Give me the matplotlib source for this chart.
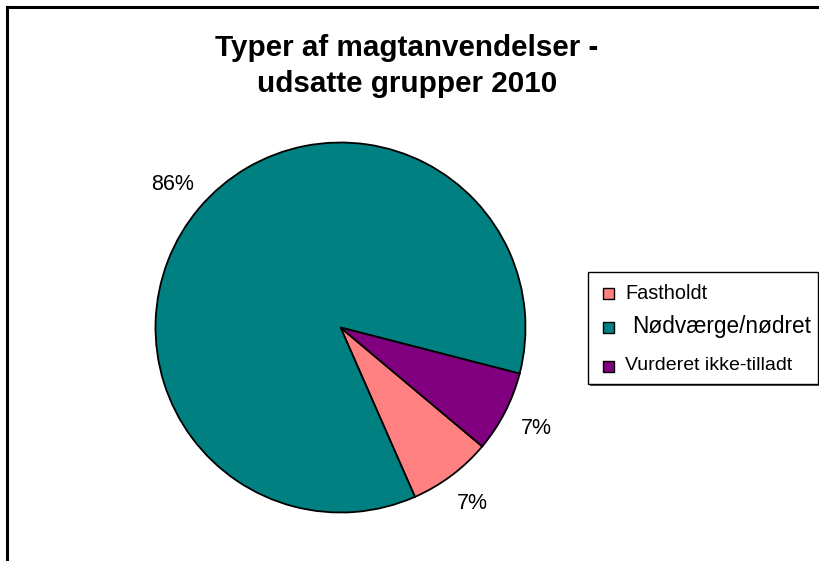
import matplotlib.pyplot as plt
from matplotlib.patches import Rectangle
from matplotlib.lines import Line2D

# data
labels = ['Fastholdt', 'Nødværge/nødret', 'Vurderet ikke-tilladt']
values = [7.3, 85.6, 7.1]
colors = ['#FF8080', '#008080', '#800080']
title = 'Typer af magtanvendelser -\nudsatte grupper 2010'

plt.rcParams['font.family'] = ['Liberation Sans', 'DejaVu Sans']

W, H = 820, 561
fig = plt.figure(figsize=(W / 100, H / 100), dpi=100)
fig.patch.set_facecolor('white')

# outer frame (only left and top visible)
fig.add_artist(Line2D([7 / W, 7 / W], [0, 1 - 7 / H], color='black', lw=2.2))
fig.add_artist(Line2D([7 / W, 1], [1 - 7 / H, 1 - 7 / H], color='black', lw=2.2))

# pie axes: center (340.5, 327.5), radius 185 px
cx, cy, r = 340.5, 327.5, 185
ax = fig.add_axes([(cx - r) / W, (H - cy - r) / H, 2 * r / W, 2 * r / H])
wedges, texts, autotexts = ax.pie(values, colors=colors, startangle=-40, counterclock=False,
                                  autopct='%1.0f%%', pctdistance=1.19,
                                  wedgeprops=dict(edgecolor='black', linewidth=1.3),
                                  textprops=dict(fontsize=15.5))
ax.set_xlim(-1, 1)
ax.set_ylim(-1, 1)
ax.set_aspect('equal')

fig.text(407 / W, 1 - 66 / H, title, ha='center', va='center', fontsize=21.3,
         fontweight='bold', linespacing=1.32)

# legend drawn by hand (entries use different font sizes)
lx0, lx1, ly0, ly1 = 588, 818, 272, 384
fig.add_artist(Rectangle((lx0 / W + 2 / W, 1 - ly1 / H - 2 / H), (lx1 - lx0) / W, (ly1 - ly0) / H,
                         transform=fig.transFigure, facecolor='#555555', edgecolor='none'))
fig.add_artist(Rectangle((lx0 / W, 1 - ly1 / H), (lx1 - lx0) / W, (ly1 - ly0) / H,
                         transform=fig.transFigure, facecolor='white', edgecolor='black', lw=1))
rows_y = [293, 327, 366]
sizes = [14.3, 16.3, 14.0]
text_x = [625, 632, 625]
for lab, col, yy, fs, tx in zip(labels, colors, rows_y, sizes, text_x):
    fig.add_artist(Rectangle((603 / W, 1 - (yy + 5.5) / H), 11 / W, 11 / H,
                             transform=fig.transFigure, facecolor=col, edgecolor='black', lw=1))
    fig.text(tx / W, 1 - yy / H, lab, ha='left', va='center', fontsize=fs)

fig.savefig('out.png', dpi=100)
